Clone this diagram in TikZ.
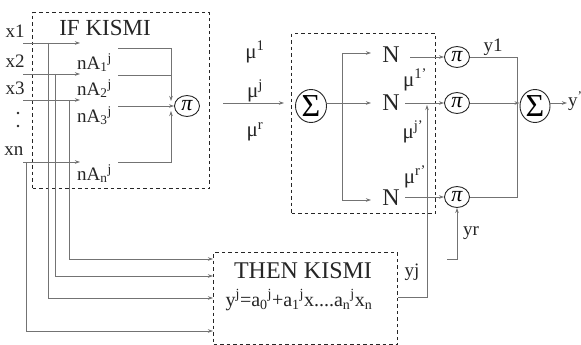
\documentclass[tikz,border=0pt]{standalone}
\usepackage{fontspec}
\setmainfont{Liberation Serif}
\usetikzlibrary{arrows.meta,shapes.geometric}
\begin{document}
\begin{tikzpicture}[x=1pt,y=-1pt,
  dbox/.style={draw=black!85, dash pattern=on 3.5pt off 3pt, line width=1.1pt, inner sep=0pt, anchor=north west},
  conn/.style={draw=black!55, line width=0.8pt},
  arr/.style={conn, -{Stealth[length=5pt,width=3.5pt]}},
  lab/.style={inner sep=0pt, text=black!85, font=\fontsize{19}{19}\selectfont},
  big/.style={inner sep=0pt, text=black!85, font=\fontsize{23}{23}\selectfont},
  mul/.style={inner sep=0pt, text=black!85, font=\fontsize{21}{21}\selectfont},
  pinode/.style={draw=black!85, line width=0.9pt, ellipse, minimum width=25pt, minimum height=21pt, inner sep=0pt, font=\fontsize{22}{22}\selectfont\itshape},
  signode/.style={draw=black!85, line width=0.9pt, ellipse, minimum width=31pt, minimum height=33pt, inner sep=-1pt, font=\fontsize{32}{32}\selectfont},
  dotmark/.style={fill=black!85, circle, inner sep=0pt, minimum size=2.6pt},
]
\useasboundingbox[fill=white] (0,0) rectangle (581,345);
% boxes
\node[dbox, minimum width=177pt, minimum height=176pt] (ifbox) at (32,12) {};
\node[dbox, minimum width=144pt, minimum height=180pt] (nbox) at (291,33) {};
\node[dbox, minimum width=184pt, minimum height=92pt] (thenbox) at (213,252) {};
% IF labels
\node[big] (iftxt) at (105,28) {IF KISMI};
\node[lab] (x1) at (15,31) {x1};
\node[lab] (x2) at (15,61) {x2};
\node[lab] (x3) at (15,88) {x3};
\node[dotmark] (d1) at (18,113) {};
\node[dotmark] (d2) at (18,126) {};
\node[lab] (xn) at (14,151) {xn};
\node[lab, anchor=west] (a1) at (77,63) {nA\textsubscript{1}\textsuperscript{j}};
\node[lab, anchor=west] (a2) at (77,89) {nA\textsubscript{2}\textsuperscript{j}};
\node[lab, anchor=west] (a3) at (77,116) {nA\textsubscript{3}\textsuperscript{j}};
\node[lab, anchor=west] (an) at (77,174) {nA\textsubscript{n}\textsuperscript{j}};
\node[pinode] (p0) at (187,106) {π};
% input lines
\coordinate (s1) at (23,43); \coordinate (e1) at (80,43); \coordinate (b1) at (48,43);
\coordinate (s2) at (23,74); \coordinate (e2) at (80,74); \coordinate (b2) at (55,74);
\coordinate (s3) at (23,100); \coordinate (e3) at (80,100); \coordinate (b3) at (69,100);
\coordinate (sn) at (23,162); \coordinate (en) at (80,162); \coordinate (bn) at (26,162);
\draw[arr] (s1) -- (e1);
\draw[arr] (s2) -- (e2);
\draw[arr] (s3) -- (e3);
\draw[arr] (sn) -- (en);
\coordinate (r3) at (0,259); \coordinate (r2) at (0,276); \coordinate (r1) at (0,298); \coordinate (rn) at (0,331);
\draw[arr] (b3) |- (thenbox.west |- r3);
\draw[arr] (b2) |- (thenbox.west |- r2);
\draw[arr] (b1) |- (thenbox.west |- r1);
\draw[arr] (bn) |- (thenbox.west |- rn);
% nA to pi
\coordinate (c1) at (118,48); \coordinate (c2) at (118,75); \coordinate (c3) at (118,106); \coordinate (cn) at (118,162);
\coordinate (v1) at (171,101); \coordinate (v2) at (171,75); \coordinate (vn) at (171,111);
\draw[arr] (c1) -| (v1);
\draw[conn] (c2) -- (v2);
\draw[arr] (c3) -- (p0.west);
\draw[arr] (cn) -| (vn);
% mu arrow
\coordinate (m0) at (223,103); \coordinate (m1) at (284,103);
\draw[arr] (m0) -- (m1);
\node[mul] (mu1) at (255,52) {μ\textsuperscript{1}};
\node[mul] (muj) at (255,91) {μ\textsuperscript{j}};
\node[mul] (mur) at (255,132) {μ\textsuperscript{r}};
% normalization box
\node[signode] (s0) at (311,106) {Σ};
\node[big, font=\fontsize{24}{24}\selectfont] (n1) at (391,55) {N};
\node[big, font=\fontsize{24}{24}\selectfont] (n2) at (391,103) {N};
\node[big, font=\fontsize{24}{24}\selectfont] (n3) at (391,198) {N};
\coordinate (k0) at (342,103); \coordinate (k1) at (342,53); \coordinate (k3) at (342,200);
\coordinate (t1) at (371,53); \coordinate (t2) at (371,103); \coordinate (t3) at (371,200);
\draw[conn] (s0.east |- k0) -- (k0);
\draw[arr] (k0) -- (t2);
\draw[arr] (k0) -- (k1) -- (t1);
\draw[arr] (k0) -- (k3) -- (t3);
\node[mul] (mu1p) at (415,80) {μ\textsuperscript{1'}};
\node[mul] (mujp) at (413,132) {μ\textsuperscript{j'}};
\node[mul] (murp) at (415,177) {μ\textsuperscript{r'}};
% pi nodes
\node[pinode] (p1) at (457,57) {π};
\node[pinode] (p2) at (457,103) {π};
\node[pinode] (p3) at (457,197) {π};
\coordinate (u1) at (410,57); \coordinate (u2) at (405,103); \coordinate (u3) at (405,197);
\draw[arr] (u1) -- (p1.west);
\draw[arr] (u2) -- (p2.west);
\draw[arr] (u3) -- (p3.west);
\node[lab] (y1) at (493,47) {y1};
% output sum
\node[signode, minimum width=30pt] (s1n) at (535,106) {Σ};
\coordinate (w) at (517,57);
\draw[conn] (p1.east) -| (w) |- (p3.east);
\draw[arr] (p2.east) -- (s1n.west |- p2.east);
\coordinate (yo) at (567,103);
\draw[arr] (s1n.east |- yo) -- (yo);
\node[lab, anchor=west] (yp) at (568,101) {y\textsuperscript{'}};
% then box
\node[big, font=\fontsize{24}{24}\selectfont] (thentxt) at (303,271) {THEN KISMI};
\node[mul, font=\fontsize{20}{20}\selectfont] (form) at (299,300) {y\textsuperscript{j}=a\textsubscript{0}\textsuperscript{j}+a\textsubscript{1}\textsuperscript{j}x....a\textsubscript{n}\textsuperscript{j}x\textsubscript{n}};
\coordinate (q0) at (427,297); \coordinate (q1) at (427,105);
\draw[arr] (thenbox.east |- q0) -- (q0) -- (q1);
\node[lab] (yj) at (412,272) {yj};
\coordinate (g0) at (447,259); \coordinate (g1) at (457,259);
\draw[arr] (g0) -- (g1) -- (p3.south);
\node[lab] (yr) at (471,233) {yr};
\end{tikzpicture}
\end{document}
